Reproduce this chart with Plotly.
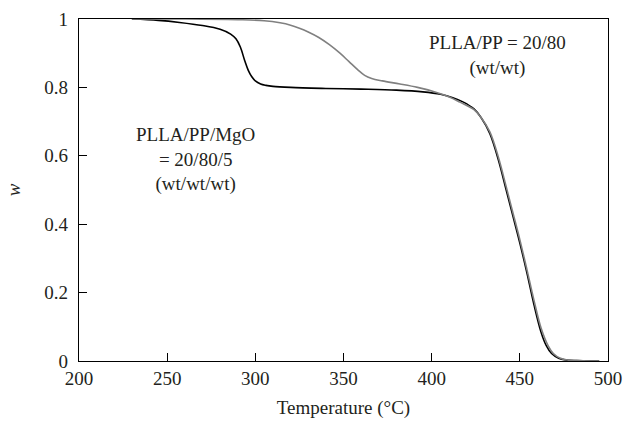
import plotly.graph_objects as go

# Thermogravimetric weight-fraction curves
temp_mgo = [230, 245, 257, 270, 280, 286, 289, 291.5, 294, 296, 298, 300, 303, 306,
            310, 320, 340, 360, 380, 395, 405, 412, 418, 424, 428, 433, 438, 442,
            446, 450, 454, 458, 462, 465, 468, 472, 476, 482, 490, 495]
w_mgo = [1.000, 0.996, 0.990, 0.981, 0.970, 0.956, 0.942, 0.918, 0.878, 0.850,
         0.831, 0.819, 0.810, 0.806, 0.803, 0.800, 0.797, 0.795, 0.792, 0.787,
         0.780, 0.770, 0.757, 0.737, 0.712, 0.665, 0.585, 0.505, 0.425, 0.345,
         0.258, 0.165, 0.085, 0.045, 0.022, 0.008, 0.003, 0.001, 0.000, 0.000]

temp_pp = [230, 260, 290, 305, 314, 320, 325, 330, 336, 342, 348, 353, 358, 362,
           366, 372, 382, 392, 401, 410, 416, 424, 428, 433, 438, 442, 446, 450,
           454, 458, 462, 466, 469, 473, 477, 483, 490, 495]
w_pp = [1.000, 1.000, 0.998, 0.995, 0.989, 0.982, 0.973, 0.962, 0.946, 0.925,
        0.900, 0.876, 0.852, 0.835, 0.826, 0.819, 0.810, 0.800, 0.788, 0.772,
        0.757, 0.735, 0.712, 0.670, 0.593, 0.515, 0.435, 0.355, 0.268, 0.178,
        0.097, 0.045, 0.022, 0.008, 0.003, 0.001, 0.000, 0.000]

x_ticks = [200, 250, 300, 350, 400, 450, 500]
y_ticks = [0, 0.2, 0.4, 0.6, 0.8, 1]
y_tick_text = ["0", "0.2", "0.4", "0.6", "0.8", "1"]

FONT = "Liberation Serif, Times New Roman, serif"
TEXT_COLOR = "#231f20"
FS = 19

W, H = 625, 421
L, R, T, B = 79, 17, 19, 60
pw, ph = W - L - R, H - T - B


def px_to_paper(px, py):
    """Convert a pixel position in the page to paper coordinates."""
    return (px - L) / pw, 1 - (py - T) / ph


fig = go.Figure()
fig.add_trace(go.Scatter(x=temp_mgo, y=w_mgo, mode="lines", line_shape="spline",
                         line=dict(color="#000000", width=1.6), showlegend=False))
fig.add_trace(go.Scatter(x=temp_pp, y=w_pp, mode="lines", line_shape="spline",
                         line=dict(color="#808080", width=1.6), showlegend=False))

x1, y1 = px_to_paper(195, 160)
fig.add_annotation(x=x1, y=y1, xref="paper", yref="paper",
                   xanchor="center", yanchor="middle",
                   text="PLLA/PP/MgO<br>= 20/80/5<br>(wt/wt/wt)", showarrow=False,
                   font=dict(family=FONT, size=FS, color=TEXT_COLOR), align="center")
x2, y2 = px_to_paper(497, 56)
fig.add_annotation(x=x2, y=y2, xref="paper", yref="paper",
                   xanchor="center", yanchor="middle",
                   text="PLLA/PP = 20/80<br>(wt/wt)", showarrow=False,
                   font=dict(family=FONT, size=FS, color=TEXT_COLOR), align="center")

fig.update_layout(
    width=W, height=H,
    margin=dict(l=L, r=R, t=T, b=B, autoexpand=False),
    paper_bgcolor="white", plot_bgcolor="white",
    font=dict(family=FONT, size=FS, color=TEXT_COLOR),
    xaxis=dict(range=[200, 500], tickvals=x_ticks, ticks="inside", ticklen=8,
               tickwidth=1.3, tickcolor="black", showline=True, linecolor="black",
               linewidth=1.3, mirror=True, showgrid=False, zeroline=False,
               automargin=False,
               title=dict(text="Temperature (°C)", standoff=12,
                          font=dict(family=FONT, size=FS)),
               tickfont=dict(family=FONT, size=FS)),
    yaxis=dict(range=[0, 1], tickvals=y_ticks, ticktext=y_tick_text, ticks="inside",
               ticklen=8, tickwidth=1.3, tickcolor="black", showline=True,
               linecolor="black", linewidth=1.3, mirror=True, showgrid=False,
               zeroline=False, ticklabelstandoff=6, automargin=False,
               title=dict(text="<i>w</i>", standoff=18, font=dict(family=FONT, size=FS)),
               tickfont=dict(family=FONT, size=FS)),
)

fig.write_html("out.html")
